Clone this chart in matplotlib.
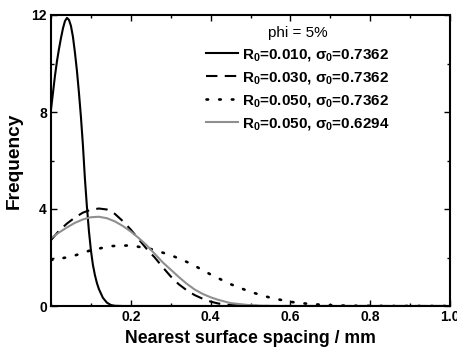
import matplotlib
matplotlib.use("Agg")
import matplotlib.pyplot as plt
from matplotlib.ticker import MultipleLocator, FixedLocator, FixedFormatter

plt.rcParams['font.family'] = ['Liberation Sans', 'DejaVu Sans']
plt.rcParams['mathtext.fontset'] = 'custom'
plt.rcParams['mathtext.rm'] = 'Liberation Sans'
plt.rcParams['mathtext.bf'] = 'Liberation Sans:bold'
plt.rcParams['mathtext.it'] = 'Liberation Sans:italic'

# Data
x_r010 = [0, 0.005, 0.01, 0.015, 0.02, 0.025, 0.03, 0.035, 0.04, 0.045, 0.05,
          0.055, 0.06, 0.065, 0.07, 0.075, 0.08, 0.085, 0.09, 0.095, 0.10,
          0.105, 0.11, 0.115, 0.12, 0.13, 0.14, 0.15, 0.16, 0.18, 0.20, 0.40,
          0.60, 0.80, 1.0]
y_r010 = [8.1, 8.8, 9.5, 10.1, 10.6, 11.05, 11.45, 11.75, 11.88, 11.8, 11.55,
          11.1, 10.45, 9.7, 8.8, 7.8, 6.63, 5.25, 4.1, 3.1, 2.3,
          1.7, 1.28, 0.95, 0.7, 0.34, 0.14, 0.04, 0.01, 0.0, 0.0, 0.0,
          0.0, 0.0, 0.0]

x_r030 = [0, 0.02, 0.04, 0.06, 0.08, 0.10, 0.12, 0.14, 0.16, 0.18, 0.20, 0.22,
          0.24, 0.26, 0.28, 0.30, 0.32, 0.34, 0.36, 0.38, 0.40, 0.42, 0.45,
          0.50, 0.55, 0.60, 0.80, 1.0]
y_r030 = [2.72, 3.1, 3.4, 3.65, 3.85, 3.97, 4.02, 3.98, 3.8, 3.5, 3.15, 2.75,
          2.35, 2.0, 1.6, 1.22, 0.9, 0.65, 0.45, 0.3, 0.18, 0.1, 0.04,
          0.01, 0.0, 0.0, 0.0, 0.0]

x_r050 = [0, 0.05, 0.10, 0.15, 0.20, 0.25, 0.30, 0.35, 0.40, 0.45, 0.50, 0.55,
          0.60, 0.65, 0.70, 0.75, 0.80, 0.85, 0.90, 1.0]
y_r050 = [1.9, 2.03, 2.3, 2.47, 2.5, 2.35, 2.1, 1.75, 1.3, 0.9, 0.58, 0.34,
          0.17, 0.08, 0.03, 0.01, 0.005, 0.0, 0.0, 0.0]

x_r050b = [0, 0.02, 0.04, 0.06, 0.08, 0.10, 0.12, 0.14, 0.16, 0.18, 0.20, 0.22,
           0.24, 0.26, 0.28, 0.30, 0.32, 0.34, 0.36, 0.38, 0.40, 0.42, 0.45,
           0.50, 0.55, 0.60]
y_r050b = [2.8, 3.03, 3.24, 3.43, 3.57, 3.66, 3.68, 3.62, 3.49, 3.3, 3.07, 2.8,
           2.5, 2.15, 1.8, 1.5, 1.2, 0.92, 0.68, 0.5, 0.36, 0.25, 0.12,
           0.03, 0.0, 0.0]

labels = [r'R$_\mathbf{0}$=0.010, σ$_\mathbf{0}$=0.7362',
          r'R$_\mathbf{0}$=0.030, σ$_\mathbf{0}$=0.7362',
          r'R$_\mathbf{0}$=0.050, σ$_\mathbf{0}$=0.7362',
          r'R$_\mathbf{0}$=0.050, σ$_\mathbf{0}$=0.6294']

xticks = [0.2, 0.4, 0.6, 0.8, 1.0]
xticklabels = ['0.2', '0.4', '0.6', '0.8', '1.0']
yticks = [0, 4, 8, 12]
yticklabels = ['0', '4', '8', '12']

W, H = 457, 350
fig = plt.figure(figsize=(W / 100, H / 100), dpi=100)
ax = fig.add_axes([51 / W, 1 - 306 / H, 399 / W, 291 / H])

lw = 1.5
ax.plot(x_r010, y_r010, color='black', lw=lw, label=labels[0])
ax.plot(x_r030, y_r030, color='black', lw=lw, linestyle=(0, (5.5, 3.5)), label=labels[1])
ax.plot(x_r050, y_r050, color='black', lw=1.9, linestyle=(0, (0.6, 4.2)),
        dash_capstyle='round', label=labels[2])
ax.plot(x_r050b, y_r050b, color='#8f8f8f', lw=lw, label=labels[3])

ax.set_xlim(0, 1.0)
ax.set_ylim(0, 12)
ax.xaxis.set_major_locator(FixedLocator(xticks))
ax.xaxis.set_major_formatter(FixedFormatter(xticklabels))
ax.xaxis.set_minor_locator(MultipleLocator(0.1))
ax.yaxis.set_major_locator(FixedLocator(yticks))
ax.yaxis.set_major_formatter(FixedFormatter(yticklabels))
ax.yaxis.set_minor_locator(MultipleLocator(2))
ax.tick_params(which='both', direction='in', top=True, right=True, width=1.0)
ax.tick_params(which='major', length=4, labelsize=10, pad=3)
ax.tick_params(which='minor', length=2.5)
for lab in ax.get_xticklabels() + ax.get_yticklabels():
    lab.set_fontweight('bold')
for sp in ax.spines.values():
    sp.set_linewidth(1.5)

ax.set_xlabel('Nearest surface spacing / mm', fontsize=12.7, fontweight='bold', labelpad=4)
ax.set_ylabel('Frequency', fontsize=13.8, fontweight='bold', labelpad=6)

leg = ax.legend(loc='upper left', bbox_to_anchor=(206 / W, 1 - 26 / H),
                bbox_transform=fig.transFigure, frameon=False,
                title='phi = 5%', handlelength=2.1, handletextpad=0.25,
                labelspacing=0.45, borderaxespad=0, borderpad=0,
                prop={'weight': 'bold', 'size': 11}, title_fontsize=11)

fig.savefig('out.png', dpi=100)
